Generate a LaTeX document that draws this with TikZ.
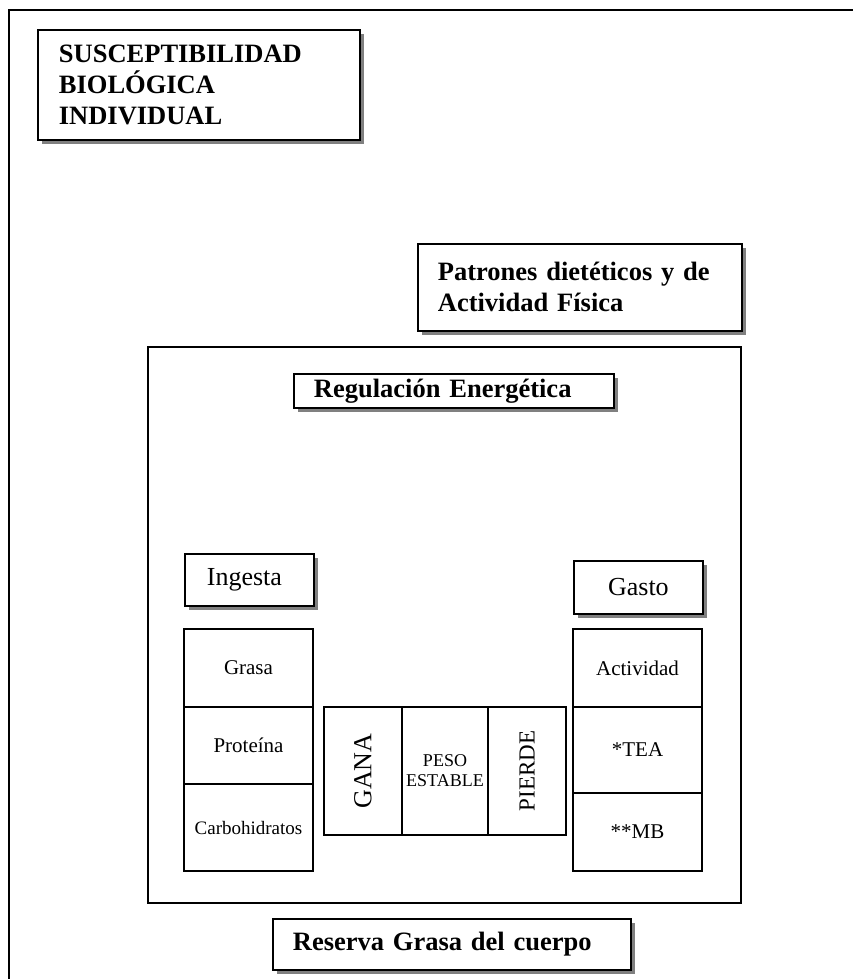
\documentclass[tikz,border=0pt]{standalone}
\usepackage{fontspec}
\setmainfont{Liberation Serif}
\usepackage{graphicx}
\usetikzlibrary{positioning,shadows}

\tikzset{
  caja/.style={draw, line width=1.8pt, fill=white, anchor=north west, align=left,
    inner xsep=20pt, inner ysep=2pt,
    drop shadow={shadow xshift=4pt, shadow yshift=-4pt, fill=black!50, opacity=1},
    font=\bfseries\fontsize{26.5}{31}\selectfont},
  celda/.style={draw, line width=1.7pt, outer sep=0pt, anchor=north west, align=center,
    inner sep=1pt, font=\fontsize{21}{24}\selectfont}
}

\begin{document}
\begin{tikzpicture}[x=1pt,y=-1pt]
  \useasboundingbox (0,0) rectangle (853,979);

  % marcos
  \draw[line width=2pt] (9,979) -- (9,10) -- (853,10);
  \draw[line width=1.8pt] (148,347) rectangle (741,903);

  % cajas con sombra
  \node[caja, inner xsep=21pt, minimum width=322pt, minimum height=110pt, text width=280pt]
    (susc) at (37,29) {SUSCEPTIBILIDAD\\BIOLÓGICA\\INDIVIDUAL};
  \node[caja, minimum width=324pt, minimum height=87pt, text width=284pt]
    (patrones) at (417,243) {Patrones dietéticos y de\\Actividad Física};
  \node[caja, minimum width=320pt, minimum height=34pt, text width=280pt]
    (regul) at (293,373) {Regulación Energética};
  \node[caja, minimum width=358pt, minimum height=51pt, text width=318pt]
    (reserva) at (272,918) {Reserva Grasa del cuerpo};
  \node[caja, font=\fontsize{26}{30}\selectfont, inner xsep=22pt, minimum width=129pt,
    minimum height=52pt, text width=85pt] (ingesta) at (184,553) {Ingesta};
  \node[caja, font=\fontsize{26}{30}\selectfont, align=center, inner xsep=22pt,
    minimum width=129pt, minimum height=53pt, text width=85pt] (gasto) at (573,560) {Gasto};

  % ingesta
  \node[celda, minimum width=129pt, minimum height=78pt] (grasa) at (184,629) {Grasa};
  \node[celda, minimum width=129pt, minimum height=77pt, below=0pt of grasa] (prot) {Proteína};
  \node[celda, font=\fontsize{19}{22}\selectfont, minimum width=129pt, minimum height=87pt,
    below=0pt of prot] (carbo) {Carbohidratos};

  % balance
  \node[celda, font=\fontsize{26}{30}\selectfont, minimum width=78pt, minimum height=128pt]
    (gana) at (324,707) {\rotatebox{90}{GANA}};
  \node[celda, font=\fontsize{18}{20}\selectfont, minimum width=86pt, minimum height=128pt,
    right=0pt of gana] (peso) {PESO\\ESTABLE};
  \node[celda, font=\fontsize{23}{26}\selectfont, minimum width=78pt, minimum height=128pt,
    right=0pt of peso] (pierde) {\rotatebox{90}{PIERDE}};

  % gasto
  \node[celda, minimum width=129pt, minimum height=78pt] (activ) at (573,629) {Actividad};
  \node[celda, minimum width=129pt, minimum height=86pt, below=0pt of activ] (tea) {*TEA};
  \node[celda, minimum width=129pt, minimum height=78pt, below=0pt of tea] (mb) {**MB};

\end{tikzpicture}
\end{document}
